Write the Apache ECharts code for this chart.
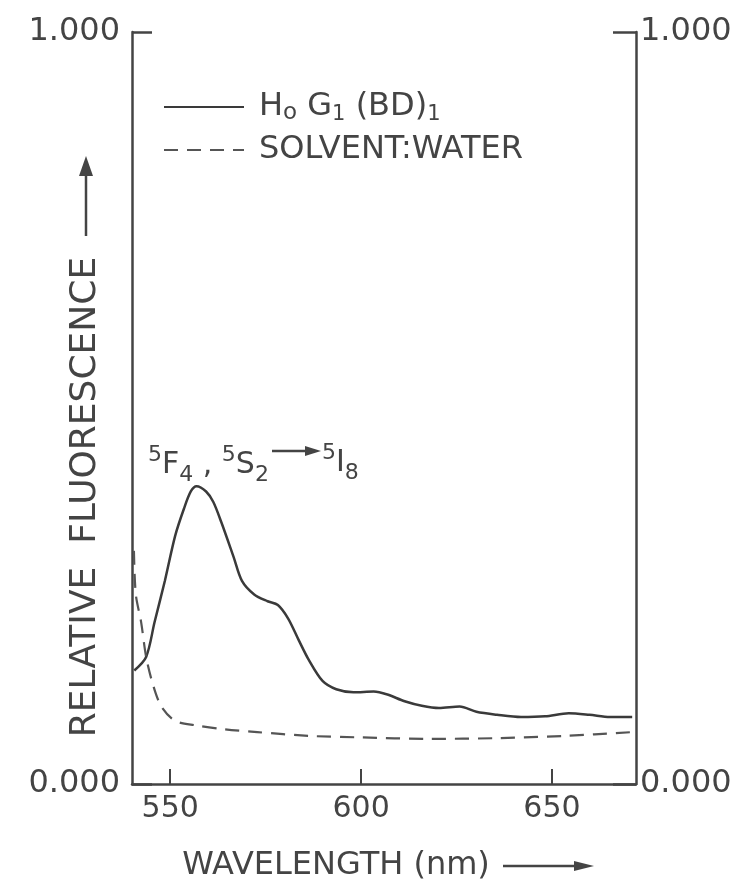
<!DOCTYPE html>
<html>
<head>
<meta charset="utf-8">
<script src="https://cdn.jsdelivr.net/npm/echarts@6/dist/echarts.min.js"></script>
<style>
  html, body { margin: 0; padding: 0; background: #fff; }
  #chart { width: 749px; height: 879px; }
</style>
</head>
<body>
<div id="chart"></div>
<script>
// values
const solidWl = [540.6, 543.7, 545.9, 548.6, 551.3, 553.6, 555.4, 556.9, 559.4, 561.3, 563.4, 566.6, 568.8, 572.0, 575.5, 578.2, 580.9, 583.6, 586.3, 589.9, 593.5, 598.0, 603.3, 606.9, 611.4, 615.9, 620.4, 625.8, 630.2, 635.6, 641.9, 648.2, 654.4, 659.8, 665.2, 671.0];
const solidVal = [0.151, 0.169, 0.215, 0.270, 0.330, 0.366, 0.389, 0.396, 0.389, 0.375, 0.348, 0.302, 0.270, 0.252, 0.243, 0.238, 0.220, 0.192, 0.165, 0.137, 0.126, 0.122, 0.123, 0.119, 0.110, 0.104, 0.101, 0.103, 0.096, 0.092, 0.089, 0.090, 0.094, 0.092, 0.089, 0.089];

const dashWl = [540.5, 541.0, 542.4, 543.7, 545.5, 547.7, 551.3, 556.7, 563.9, 572.8, 586.3, 599.7, 617.7, 635.6, 653.6, 671.0];
const dashVal = [0.310, 0.252, 0.215, 0.169, 0.132, 0.103, 0.084, 0.078, 0.073, 0.069, 0.064, 0.062, 0.060, 0.061, 0.064, 0.069];

const xTicks = [550, 600, 650];
const seriesNames = ['Ho G1 (BD)1', 'SOLVENT:WATER'];

const INK = '#444';
const FONT = 'DejaVu Sans';

const zip = (xs, ys) => xs.map((x, i) => [x, ys[i]]);

// small arrow made of a line and a filled head
const arrow = (x1, y1, x2, y2, headLen, headW) => {
  const dx = x2 - x1, dy = y2 - y1;
  const len = Math.sqrt(dx * dx + dy * dy);
  const ux = dx / len, uy = dy / len;
  const bx = x2 - ux * headLen, by = y2 - uy * headLen;
  return [
    {
      type: 'line',
      shape: { x1: x1, y1: y1, x2: bx, y2: by },
      style: { stroke: INK, lineWidth: 2.5 }
    },
    {
      type: 'polygon',
      shape: {
        points: [[x2, y2], [bx - uy * headW, by + ux * headW], [bx + uy * headW, by - ux * headW]]
      },
      style: { fill: INK }
    }
  ];
};

const termRich = {
  m: { fontSize: 30, fontFamily: FONT, fill: INK, verticalAlign: 'middle', lineHeight: 42 },
  sp: { fontSize: 22, fontFamily: FONT, fill: INK, verticalAlign: 'top', lineHeight: 42 },
  sb: { fontSize: 22, fontFamily: FONT, fill: INK, verticalAlign: 'bottom', lineHeight: 42 }
};

const yLabel = {
  fontFamily: FONT,
  fontSize: 32,
  color: INK,
  formatter: (v) => v.toFixed(3)
};

const chart = echarts.init(document.getElementById('chart'));

chart.setOption({
  animation: false,
  backgroundColor: '#fff',
  grid: { left: 132, right: 113, top: 32, bottom: 95 },
  legend: {
    orient: 'vertical',
    left: 163,
    top: 91,
    padding: 0,
    itemWidth: 80,
    itemHeight: 14,
    itemGap: 9,
    data: seriesNames,
    itemStyle: { opacity: 0 },
    formatter: (name) => name === seriesNames[0]
      ? '{m|H}{s|o}{m| G}{b|1}{m| (BD)}{b|1}'
      : '{m|' + name + '}',
    textStyle: {
      color: INK,
      padding: [0, 0, 0, 10],
      rich: {
        m: { fontFamily: FONT, fontSize: 32, color: INK, lineHeight: 36, verticalAlign: 'middle' },
        s: { fontFamily: FONT, fontSize: 23, color: INK, lineHeight: 36, verticalAlign: 'bottom' },
        b: { fontFamily: FONT, fontSize: 21, color: INK, lineHeight: 36, verticalAlign: 'bottom' }
      }
    }
  },
  xAxis: {
    type: 'value',
    min: 540,
    max: 672,
    axisLine: { lineStyle: { color: INK, width: 2.5 } },
    axisTick: { inside: true, length: 15, customValues: xTicks, lineStyle: { color: INK, width: 2 } },
    axisLabel: { customValues: xTicks, fontFamily: FONT, fontSize: 30, color: INK, margin: 10 },
    splitLine: { show: false }
  },
  yAxis: [
    {
      type: 'value',
      position: 'left',
      min: 0,
      max: 1,
      interval: 1,
      axisLine: { show: true, lineStyle: { color: INK, width: 2.5 } },
      axisTick: { show: true, inside: true, length: 20, lineStyle: { color: INK, width: 2.5 } },
      axisLabel: Object.assign({ margin: 12 }, yLabel),
      splitLine: { show: false }
    },
    {
      type: 'value',
      position: 'right',
      min: 0,
      max: 1,
      interval: 1,
      axisLine: { show: true, lineStyle: { color: INK, width: 2.5 } },
      axisTick: { show: true, inside: true, length: 23, lineStyle: { color: INK, width: 2.5 } },
      axisLabel: Object.assign({ margin: 4 }, yLabel),
      splitLine: { show: false }
    }
  ],
  series: [
    {
      name: seriesNames[0],
      type: 'line',
      data: zip(solidWl, solidVal),
      smooth: 0.3,
      symbol: 'none',
      lineStyle: { color: '#3a3a3a', width: 2.5 },
      itemStyle: { color: '#3a3a3a' }
    },
    {
      name: seriesNames[1],
      type: 'line',
      data: zip(dashWl, dashVal),
      smooth: 0.3,
      symbol: 'none',
      lineStyle: { color: '#555', width: 2.2, type: [14, 9] },
      itemStyle: { color: '#555' }
    }
  ],
  graphic: [
    {
      type: 'text',
      x: 148,
      y: 465,
      style: {
        text: '{sp|5}{m|F}{sb|4}{m| , }{sp|5}{m|S}{sb|2}',
        rich: termRich,
        verticalAlign: 'middle',
        textVerticalAlign: 'middle'
      }
    },
    {
      type: 'text',
      x: 322,
      y: 463,
      style: {
        text: '{sp|5}{m|I}{sb|8}',
        rich: termRich,
        verticalAlign: 'middle',
        textVerticalAlign: 'middle'
      }
    },
    {
      type: 'group',
      children: arrow(272, 451, 321, 451, 16, 5)
    },
    {
      type: 'text',
      x: 86,
      y: 497,
      rotation: Math.PI / 2,
      style: {
        text: 'RELATIVE  FLUORESCENCE',
        font: '36px ' + FONT,
        fill: INK,
        align: 'center',
        textAlign: 'center',
        verticalAlign: 'middle',
        textVerticalAlign: 'middle'
      }
    },
    {
      type: 'group',
      children: arrow(86, 236, 86, 156, 20, 7)
    },
    {
      type: 'text',
      x: 336,
      y: 866,
      style: {
        text: 'WAVELENGTH (nm)',
        font: '32px ' + FONT,
        fill: INK,
        align: 'center',
        textAlign: 'center',
        verticalAlign: 'middle',
        textVerticalAlign: 'middle'
      }
    },
    {
      type: 'group',
      children: arrow(503, 866, 594, 866, 20, 5)
    }
  ]
});
</script>
</body>
</html>
